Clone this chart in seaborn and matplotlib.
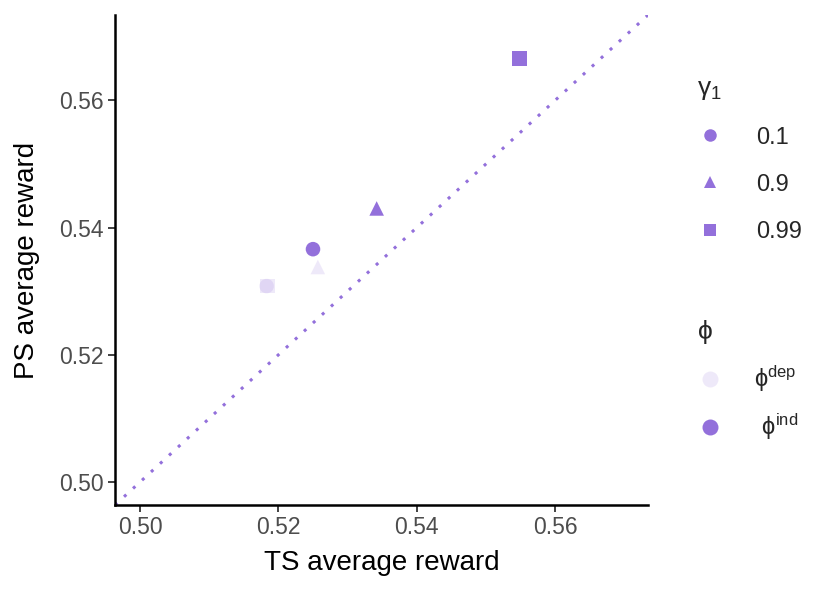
import numpy as np
import pandas as pd
import matplotlib
matplotlib.use("Agg")
import matplotlib.pyplot as plt
from matplotlib.lines import Line2D
import seaborn as sns

# -----------------------------------------
# DATA
# -----------------------------------------
gamma = ["0.1", "0.9", "0.99", "0.1", "0.9", "0.99"]
phi = ["dep", "dep", "dep", "ind", "ind", "ind"]
ts_reward = [0.5183, 0.5257, 0.5184, 0.5250, 0.5342, 0.5548]
ps_reward = [0.5308, 0.5338, 0.5308, 0.5366, 0.5430, 0.5666]

gamma_levels = ["0.1", "0.9", "0.99"]
phi_levels = ["dep", "ind"]
x_ticks = [0.50, 0.52, 0.54, 0.56]
y_ticks = [0.50, 0.52, 0.54, 0.56]

df = pd.DataFrame({"gamma": gamma, "phi": phi, "TS": ts_reward, "PS": ps_reward})

purple = "#9370DB"
light = matplotlib.colors.to_rgba(purple, 0.15)
palette = {"dep": light, "ind": purple}
markers = {"0.1": "o", "0.9": "^", "0.99": "s"}

sns.set_theme(style="ticks")
plt.rcParams["font.family"] = ["Liberation Sans", "DejaVu Sans"]
plt.rcParams["mathtext.fontset"] = "custom"
plt.rcParams["mathtext.rm"] = "Liberation Sans"

# -----------------------------------------
# PLOT
# -----------------------------------------
fig = plt.figure(figsize=(8.3, 5.97), dpi=100)
ax = fig.add_axes([0.1386, 0.1541, 0.6421, 0.8208])

lims = (0.4964, 0.5734)
ax.plot(lims, lims, color=purple, linestyle=(0, (1, 3.0)), linewidth=2.2, zorder=1)

sns.scatterplot(
    data=df, x="TS", y="PS",
    hue="phi", style="gamma",
    palette=palette, markers=markers,
    hue_order=phi_levels, style_order=gamma_levels,
    s=110, linewidth=0, legend=False, ax=ax, zorder=2
)

ax.set_xlim(lims)
ax.set_ylim(lims)
ax.set_xticks(x_ticks)
ax.set_yticks(y_ticks)
ax.set_xticklabels([f"{v:.2f}" for v in x_ticks])
ax.set_yticklabels([f"{v:.2f}" for v in y_ticks])
ax.tick_params(labelsize=16.5, labelcolor="#4D4D4D", color="#333333",
               length=5, width=1.3, pad=3)
ax.set_xlabel("TS average reward", fontsize=20, color="black", labelpad=8)
ax.set_ylabel("PS average reward", fontsize=20, color="black", labelpad=14)
for side in ["left", "bottom"]:
    ax.spines[side].set_linewidth(1.8)
    ax.spines[side].set_color("black")
sns.despine(ax=ax)

# -----------------------------------------
# LEGENDS
# -----------------------------------------
gamma_handles = [
    Line2D([], [], linestyle="", marker=markers[g], color=purple,
           markersize=9, markeredgewidth=0)
    for g in gamma_levels
]
leg1 = fig.legend(
    gamma_handles, gamma_levels, title=r"$\mathregular{\gamma_1}$",
    loc="upper left", bbox_to_anchor=(0.826, 0.893),
    frameon=False, fontsize=17, title_fontsize=19,
    handlelength=1.1, handletextpad=1.4, labelspacing=1.06,
    alignment="left", borderpad=0
)

phi_handles = [
    Line2D([], [], linestyle="", marker="o", color=palette[p],
           markersize=11.5, markeredgewidth=0)
    for p in phi_levels
]
phi_labels = [r"$\mathregular{\phi^{dep}}$", r"$\mathregular{\ \phi^{ind}}$"]
leg2 = fig.legend(
    phi_handles, phi_labels, title=r"$\mathregular{\phi}$",
    loc="upper left", bbox_to_anchor=(0.826, 0.487),
    frameon=False, fontsize=17, title_fontsize=19,
    handlelength=1.1, handletextpad=1.3, labelspacing=0.75,
    alignment="left", borderpad=0
)

fig.savefig("out.png", dpi=100)
